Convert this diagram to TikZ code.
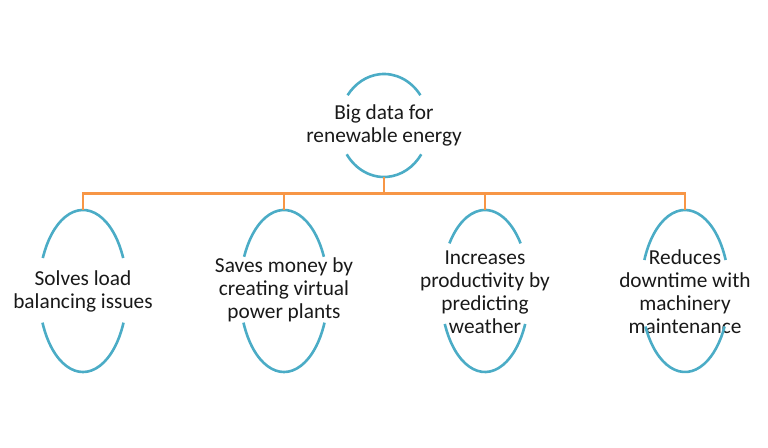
\documentclass[tikz,border=0pt]{standalone}
\usepackage{fontspec}
\setmainfont{Carlito}
\definecolor{ovalblue}{HTML}{4BACC6}
\definecolor{linkorange}{HTML}{F79646}
\begin{document}
\begin{tikzpicture}[x=1bp,y=-1bp,
  lbl/.style={align=center,font=\fontsize{21.4}{23}\selectfont,text=black!90,inner sep=0pt},
  oval/.style={draw=ovalblue,line width=2.6bp},
  link/.style={draw=linkorange,line width=2.6bp}]
\useasboundingbox (0,0) rectangle (768,448);
% ellipse centres
\coordinate (e0) at (384,125.5);
\coordinate (e1) at (83,291);
\coordinate (e2) at (284,291);
\coordinate (e3) at (485,291);
\coordinate (e4) at (685,291);
% text
\node[lbl] (c0) at (384,125) {Big data for\\renewable energy};
\node[lbl] (c1) at (83,291) {Solves load\\balancing issues};
\node[lbl] (c2) at (284,290) {Saves money by\\creating virtual\\power plants};
\node[lbl] (c3) at (485,292) {Increases\\productivity by\\predicting\\weather};
\node[lbl] (c4) at (685,292) {Reduces\\downtime with\\machinery\\maintenance};
% ovals (top and bottom arcs)
\draw[oval] ([shift={(36:45bp and 51.5bp)}]e0) arc[start angle=36,end angle=144,x radius=45bp,y radius=51.5bp];
\draw[oval] ([shift={(214:45bp and 51.5bp)}]e0) arc[start angle=214,end angle=326,x radius=45bp,y radius=51.5bp];
\draw[oval] ([shift={(24:44bp and 81bp)}]e1) arc[start angle=24,end angle=156,x radius=44bp,y radius=81bp];
\draw[oval] ([shift={(203:44bp and 81bp)}]e1) arc[start angle=203,end angle=337,x radius=44bp,y radius=81bp];
\draw[oval] ([shift={(25:44bp and 81bp)}]e2) arc[start angle=25,end angle=155,x radius=44bp,y radius=81bp];
\draw[oval] ([shift={(203:44bp and 81bp)}]e2) arc[start angle=203,end angle=337,x radius=44bp,y radius=81bp];
\draw[oval] ([shift={(36:44bp and 81bp)}]e3) arc[start angle=36,end angle=144,x radius=44bp,y radius=81bp];
\draw[oval] ([shift={(204:44bp and 81bp)}]e3) arc[start angle=204,end angle=336,x radius=44bp,y radius=81bp];
\draw[oval] ([shift={(22.5:44bp and 81bp)}]e4) arc[start angle=22.5,end angle=157.5,x radius=44bp,y radius=81bp];
\draw[oval] ([shift={(206:44bp and 81bp)}]e4) arc[start angle=206,end angle=334,x radius=44bp,y radius=81bp];
% connector points
\coordinate (b0) at (384,177);
\coordinate (j0) at (384,193.3);
\coordinate (j1) at (83,193.3);
\coordinate (j2) at (284,193.3);
\coordinate (j3) at (485,193.3);
\coordinate (j4) at (685,193.3);
\coordinate (t1) at (83,210);
\coordinate (t2) at (284,210);
\coordinate (t3) at (485,210);
\coordinate (t4) at (685,210);
\draw[link] (b0) -- (j0);
\draw[link] (t1) -- (j1) -- (j4) -- (t4);
\draw[link] (j2) -- (t2);
\draw[link] (j3) -- (t3);
\end{tikzpicture}
\end{document}
